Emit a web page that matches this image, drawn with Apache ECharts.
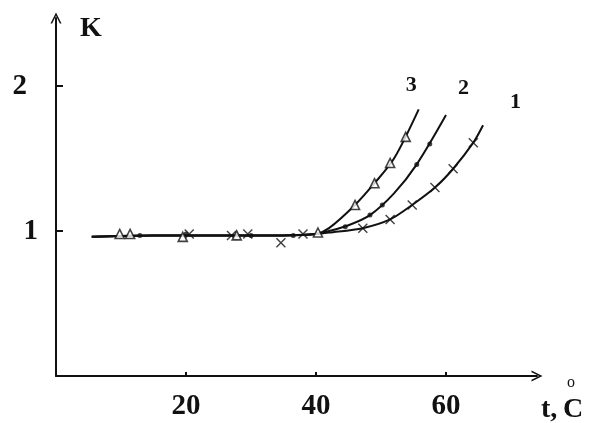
<!DOCTYPE html>
<html>
<head>
<meta charset="utf-8">
<script src="https://cdn.jsdelivr.net/npm/echarts@6/dist/echarts.min.js"></script>
<style>
  html, body { margin: 0; padding: 0; background: #fff; }
  #chart { width: 590px; height: 423px; }
</style>
</head>
<body>
<div id="chart"></div>
<script>
// Axis ticks
const xTicks = [20, 40, 60];
const yTicks = [1, 2];

// Curve traces (t, K): common flat stretch, then the rising branches
const flatT = [5.5, 15, 25, 35, 40];
const flatK = [0.96, 0.97, 0.97, 0.97, 0.98];

const curve1T = [42, 47.2, 51.4, 54.8, 58.3, 61.1, 64.2, 65.7];
const curve1K = [0.99, 1.02, 1.08, 1.18, 1.30, 1.43, 1.61, 1.73];

const curve2T = [42, 45, 48.3, 52, 55.5, 60];
const curve2K = [1.0, 1.04, 1.11, 1.26, 1.46, 1.80];

const curve3T = [42, 46, 49, 52, 55.8];
const curve3K = [1.02, 1.18, 1.33, 1.50, 1.84];

// Measured points for each curve
const marks1T = [20.5, 27, 29.5, 34.6, 38, 47.2, 51.4, 54.8, 58.3, 61.1, 64.2];
const marks1K = [0.98, 0.97, 0.98, 0.92, 0.98, 1.02, 1.08, 1.18, 1.30, 1.43, 1.61];

const marks2T = [12.9, 20, 30, 36.5, 44.5, 48.3, 50.2, 55.5, 57.5];
const marks2K = [0.97, 0.98, 0.97, 0.97, 1.03, 1.11, 1.18, 1.46, 1.60];

const marks3T = [9.8, 11.4, 19.5, 27.8, 40.3, 46, 49, 51.4, 53.8];
const marks3K = [0.98, 0.98, 0.96, 0.97, 0.99, 1.18, 1.33, 1.47, 1.65];

const curveNames = ['1', '2', '3'];

const ink = '#111';
const serif = "'Liberation Serif', 'DejaVu Serif', serif";

function pairs(ts, ks) { return ts.map((t, i) => [t, ks[i]]); }
function withFlat(ts, ks) { return pairs(flatT, flatK).concat(pairs(ts, ks)); }

const crossPath = 'path://M0,2 L2,0 L10,8 L18,0 L20,2 L12,10 L20,18 L18,20 L10,12 L2,20 L0,18 L8,10 Z';
// open chevron arrow head, tip pointing along the axis
const chevron = 'path://M0,20 L10,0 L20,20 L17,20 L10,6 L3,20 Z';

const chart = echarts.init(document.getElementById('chart'));

function curve(name, ts, ks, offset) {
  return {
    type: 'line',
    name: name,
    data: withFlat(ts, ks),
    smooth: 0.3,
    showSymbol: false,
    lineStyle: { color: ink, width: 2 },
    silent: true,
    z: 2,
    endLabel: {
      show: true,
      formatter: name,
      offset: offset,
      color: ink,
      fontFamily: serif,
      fontWeight: 'bold',
      fontSize: 22
    }
  };
}

const axisLine = {
  show: true,
  symbol: ['none', chevron],
  symbolSize: [11, 15],
  lineStyle: { color: ink, width: 2 }
};

chart.setOption({
  animation: false,
  backgroundColor: '#fff',
  grid: { left: 56, right: 53, top: 18, bottom: 47, containLabel: false },
  xAxis: {
    type: 'value',
    min: 0,
    max: 74,
    interval: 20,
    axisLine: axisLine,
    axisTick: { show: true, inside: true, length: 4, customValues: xTicks, lineStyle: { color: ink, width: 2 } },
    axisLabel: {
      customValues: xTicks,
      margin: 16,
      color: ink,
      fontFamily: serif,
      fontWeight: 'bold',
      fontSize: 29
    },
    splitLine: { show: false }
  },
  yAxis: {
    type: 'value',
    min: 0,
    max: 2.47,
    interval: 1,
    axisLine: axisLine,
    axisTick: { show: true, inside: true, length: 7, customValues: yTicks, lineStyle: { color: ink, width: 2 } },
    axisLabel: {
      customValues: yTicks,
      margin: 18,
      formatter: v => (v === 2 ? '{b|2}' : '{a|' + v + '}'),
      rich: {
        a: { color: ink, fontFamily: serif, fontWeight: 'bold', fontSize: 29 },
        b: { color: ink, fontFamily: serif, fontWeight: 'bold', fontSize: 29, padding: [0, 11, 0, 0] }
      }
    },
    splitLine: { show: false }
  },
  series: [
    curve(curveNames[0], curve1T, curve1K, [19, -23]),
    curve(curveNames[1], curve2T, curve2K, [4, -27]),
    curve(curveNames[2], curve3T, curve3K, [-21, -24]),
    {
      type: 'scatter',
      data: pairs(marks1T, marks1K),
      symbol: crossPath,
      symbolSize: 10,
      itemStyle: { color: ink },
      silent: true,
      z: 3
    },
    {
      type: 'scatter',
      data: pairs(marks2T, marks2K),
      symbol: 'circle',
      symbolSize: 5,
      itemStyle: { color: ink },
      silent: true,
      z: 3
    },
    {
      type: 'scatter',
      data: pairs(marks3T, marks3K),
      symbol: 'triangle',
      symbolSize: 9,
      itemStyle: { color: '#fff', borderColor: ink, borderWidth: 1.6 },
      silent: true,
      z: 3
    }
  ],
  graphic: [
    {
      type: 'text',
      left: 80,
      top: 15,
      style: { text: 'K', fill: ink, font: 'bold 28px ' + serif }
    },
    {
      type: 'text',
      left: 541,
      top: 396,
      style: { text: 't,', fill: ink, font: 'bold 28px ' + serif }
    },
    {
      type: 'text',
      left: 563,
      top: 396,
      style: { text: 'C', fill: ink, font: 'bold 28px ' + serif }
    },
    {
      type: 'text',
      left: 567,
      top: 375,
      style: { text: 'o', fill: ink, font: '16px ' + serif }
    }
  ]
});
</script>
</body>
</html>
